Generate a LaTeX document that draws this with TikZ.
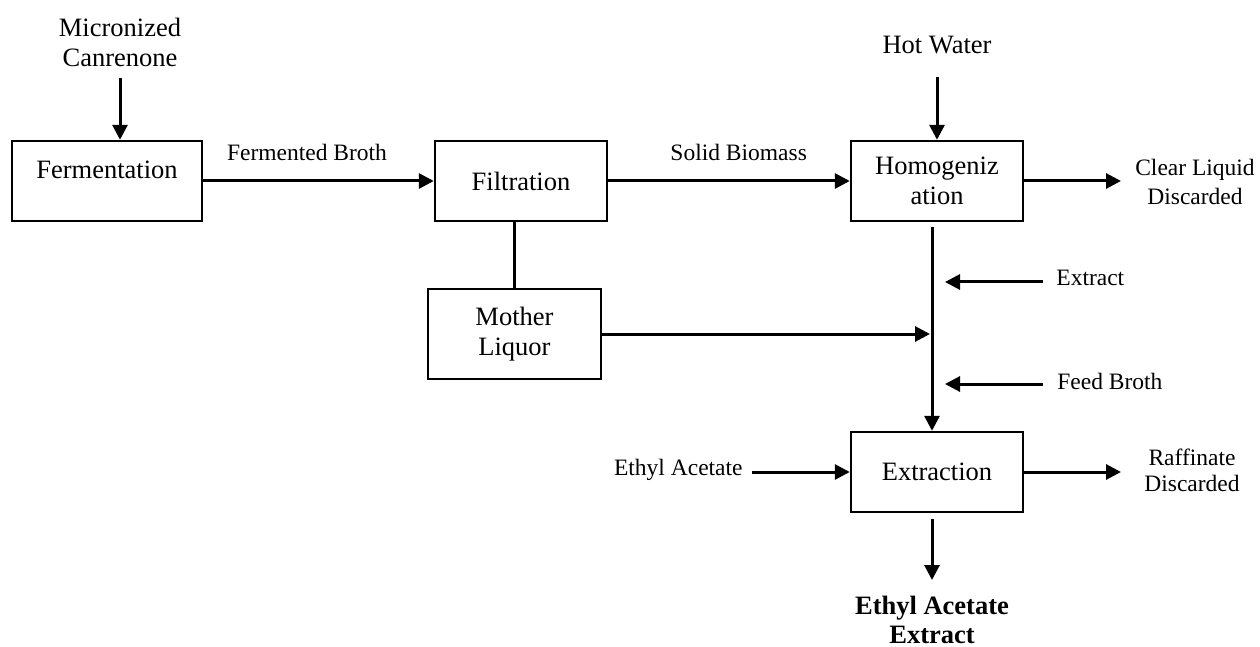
\documentclass[tikz,border=0pt]{standalone}
\usepackage{fontspec}
\setmainfont{Liberation Serif}
\usetikzlibrary{arrows.meta,positioning,calc}
\tikzset{
  >={Triangle[length=7.5pt,width=7.5pt]},
  box/.style={draw,line width=1.2pt,minimum width=86pt,minimum height=40pt,inner sep=0pt,align=center,font=\fontsize{13.25}{15}\selectfont},
  lab/.style={align=center,inner sep=0pt,font=\fontsize{11.75}{14.5}\selectfont},
  biglab/.style={lab,font=\fontsize{13.25}{15}\selectfont},
  arr/.style={->,line width=1.5pt},
  lin/.style={line width=1.5pt},
}

\begin{document}
\begin{tikzpicture}[x=0.5pt,y=-0.5pt]
\useasboundingbox (0,0) rectangle (1260,647);
% process units
\node[box,minimum width=95pt,text depth=11pt] (ferm) at (107,181) {Fermentation};
\node[box] (filt) at (521,181) {Filtration};
\node[box] (homog) at (937,181) {Homogeniz\\ation};
\node[box,minimum width=86.5pt,minimum height=45pt] (mother) at (514.5,334) {Mother\\Liquor};
\node[box] (extr) at (937,472) {Extraction};

% free ends of the streams
\coordinate (trunk) at (932,0);
\coordinate (clearout) at (1121,181);
\coordinate (raffout) at (1121,470);
\coordinate (extin) at (1043,282);
\coordinate (feedin) at (1043,384);
\coordinate (etacin) at (752,470);
\coordinate (prodout) at (932,580);

% feeds and products
\node[biglab] (canr) at (120,42.5) {Micronized\\Canrenone};
\node[biglab] (water) at (937,45) {Hot Water};
\node[lab] (clear) at (1195,182) {Clear Liquid\\Discarded};
\node[lab,font=\fontsize{11.75}{13}\selectfont] (raff) at (1192,470) {Raffinate\\Discarded};
\node[lab,right=6.5pt of extin,yshift=2pt] (extract) {Extract};
\node[lab,right=7pt of feedin,yshift=1.5pt] (feed) {Feed Broth};
\node[lab,left=4.5pt of etacin] (etac) {Ethyl Acetate};
\node[biglab,font=\fontsize{13.25}{14.5}\selectfont\bfseries,below=8pt of prodout] (product) {Ethyl Acetate\\Extract};

% main line
\draw[arr,shorten <=5.5pt] (canr.south) -- (canr.south |- ferm.north);
\draw[arr] (ferm) -- (filt) node[lab,pos=0.45,above=9.5pt] (broth) {Fermented Broth};
\draw[arr] (filt) -- (homog) node[lab,pos=0.54,above=9.5pt] (solid) {Solid Biomass};
\draw[arr,shorten <=11.5pt] (water.south) -- (homog.north);
\draw[arr] (homog.east) -- (clearout);
\draw[lin] (filt.south -| mother.north) -- (mother.north);

% trunk down to extraction
\draw[arr,shorten <=2.5pt] (homog.south -| trunk) -- (extr.north -| trunk);
\draw[arr,shorten >=1pt] (mother.east) -- (mother.east -| trunk);
\draw[arr,shorten >=6.5pt] (extin) -- (extin -| trunk);
\draw[arr,shorten >=6.5pt] (feedin) -- (feedin -| trunk);

% extraction
\draw[arr] (etacin |- extr.west) -- (extr.west);
\draw[arr] (extr.east) -- (extr.east -| raffout);
\draw[arr,shorten <=3pt] (extr.south -| trunk) -- (prodout);
\end{tikzpicture}
\end{document}
